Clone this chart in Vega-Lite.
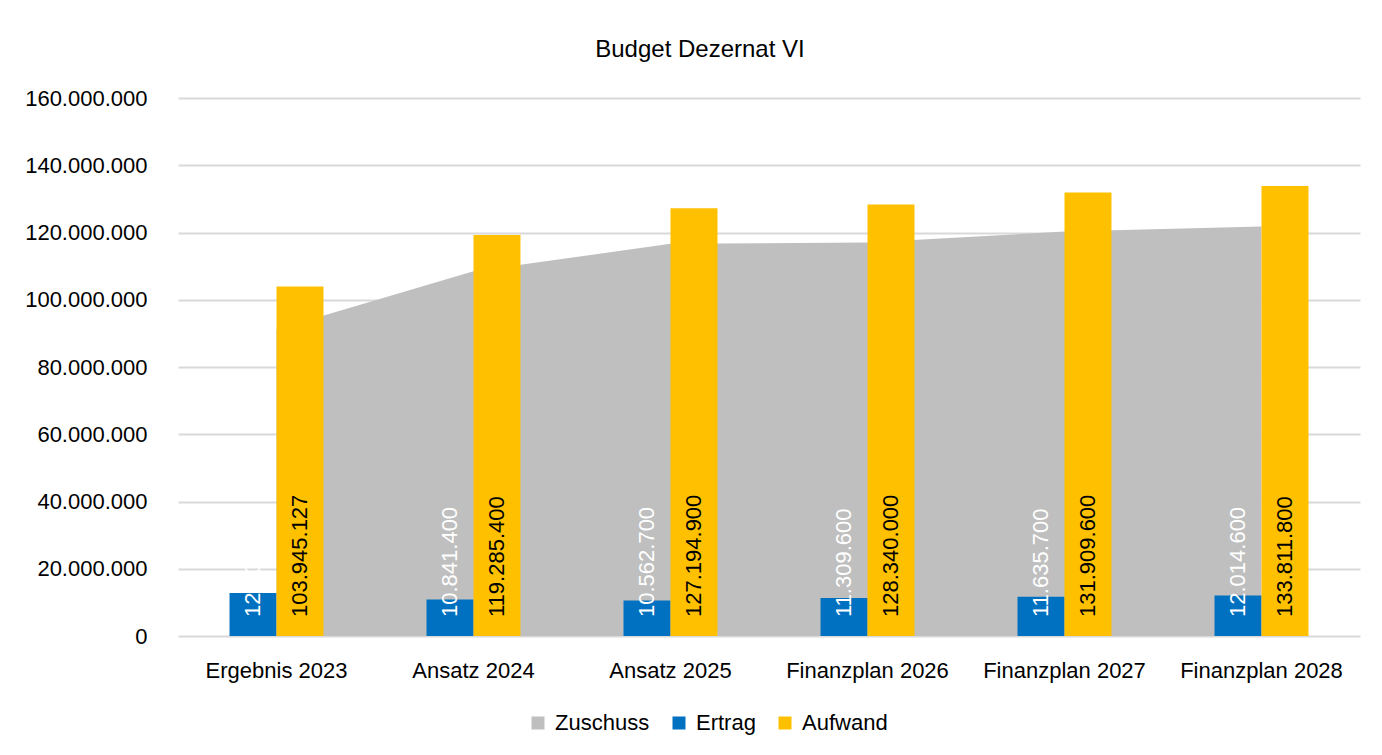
{
  "$schema": "https://vega.github.io/schema/vega-lite/v6.json",
  "width": 1182,
  "height": 538,
  "autosize": {"type": "none"},
  "padding": {"left": 178, "top": 98, "right": 22, "bottom": 119},
  "background": "white",
  "title": {
    "text": "Budget Dezernat VI",
    "font": "Liberation Sans",
    "fontSize": 24,
    "fontWeight": "normal",
    "color": "#000000",
    "anchor": "middle",
    "dx": -69,
    "offset": 6,
    "baseline": "alphabetic"
  },
  "data": {
    "values": [
      {"cat": "Ergebnis 2023", "series": "Zuschuss", "value": 91145127},
      {"cat": "Ansatz 2024", "series": "Zuschuss", "value": 108444000},
      {"cat": "Ansatz 2025", "series": "Zuschuss", "value": 116632200},
      {"cat": "Finanzplan 2026", "series": "Zuschuss", "value": 117030400},
      {"cat": "Finanzplan 2027", "series": "Zuschuss", "value": 120273900},
      {"cat": "Finanzplan 2028", "series": "Zuschuss", "value": 121797200},
      {"cat": "Ergebnis 2023", "series": "Ertrag", "value": 12800000},
      {"cat": "Ansatz 2024", "series": "Ertrag", "value": 10841400},
      {"cat": "Ansatz 2025", "series": "Ertrag", "value": 10562700},
      {"cat": "Finanzplan 2026", "series": "Ertrag", "value": 11309600},
      {"cat": "Finanzplan 2027", "series": "Ertrag", "value": 11635700},
      {"cat": "Finanzplan 2028", "series": "Ertrag", "value": 12014600},
      {"cat": "Ergebnis 2023", "series": "Aufwand", "value": 103945127},
      {"cat": "Ansatz 2024", "series": "Aufwand", "value": 119285400},
      {"cat": "Ansatz 2025", "series": "Aufwand", "value": 127194900},
      {"cat": "Finanzplan 2026", "series": "Aufwand", "value": 128340000},
      {"cat": "Finanzplan 2027", "series": "Aufwand", "value": 131909600},
      {"cat": "Finanzplan 2028", "series": "Aufwand", "value": 133811800}
    ]
  },
  "encoding": {
    "x": {
      "field": "cat",
      "type": "nominal",
      "sort": null,
      "scale": {"paddingInner": 0.523, "paddingOuter": 0.2615},
      "axis": {
        "title": null,
        "labelAngle": 0,
        "ticks": false,
        "domain": false,
        "grid": false,
        "labelFont": "Liberation Sans",
        "labelFontSize": 22,
        "labelColor": "#000000",
        "labelBaseline": "alphabetic",
        "labelPadding": 41
      }
    }
  },
  "layer": [
    {
      "transform": [{"filter": "datum.series === 'Zuschuss'"}],
      "mark": {"type": "area", "opacity": 1},
      "encoding": {
        "y": {
          "field": "value",
          "type": "quantitative",
          "scale": {"domain": [0, 160000000], "nice": false},
          "axis": {
            "title": null,
            "values": [0, 20000000, 40000000, 60000000, 80000000, 100000000, 120000000, 140000000, 160000000],
            "format": ",d",
            "ticks": false,
            "domain": false,
            "gridColor": "#D9D9D9",
            "gridWidth": 2,
            "labelFont": "Liberation Sans",
            "labelFontSize": 22,
            "labelColor": "#000000",
            "labelPadding": 31
          }
        },
        "color": {
          "field": "series",
          "type": "nominal",
          "scale": {"domain": ["Zuschuss", "Ertrag", "Aufwand"], "range": ["#BFBFBF", "#0070C0", "#FFC000"]},
          "legend": {
            "title": null,
            "orient": "none",
            "direction": "horizontal",
            "legendX": 349,
            "legendY": 614,
            "symbolType": "square",
            "symbolSize": 169,
            "symbolStrokeWidth": 0,
            "labelFont": "Liberation Sans",
            "labelFontSize": 22,
            "labelColor": "#000000",
            "labelOffset": 6,
            "columnPadding": 18
          }
        }
      }
    },
    {
      "transform": [{"filter": "datum.series !== 'Zuschuss'"}],
      "mark": {"type": "bar"},
      "encoding": {
        "xOffset": {"field": "series", "type": "nominal", "scale": {"domain": ["Ertrag", "Aufwand"], "paddingInner": 0, "paddingOuter": 0}},
        "y": {"field": "value", "type": "quantitative"},
        "color": {"field": "series", "type": "nominal"}
      }
    },
    {
      "transform": [{"filter": "datum.series !== 'Zuschuss'"}],
      "mark": {"type": "text", "angle": 270, "align": "left", "baseline": "middle", "dx": 19, "font": "Liberation Sans", "fontSize": 22},
      "encoding": {
        "xOffset": {"field": "series", "type": "nominal", "scale": {"domain": ["Ertrag", "Aufwand"], "paddingInner": 0, "paddingOuter": 0}},
        "y": {"datum": 0, "type": "quantitative"},
        "text": {"field": "value", "type": "quantitative", "format": ",d"},
        "color": {
          "condition": {"test": "datum.series === 'Ertrag'", "value": "#FFFFFF"},
          "value": "#000000"
        }
      }
    }
  ],
  "config": {
    "locale": {"number": {"decimal": ",", "thousands": ".", "grouping": [3], "currency": ["", " €"]}},
    "view": {"stroke": null},
    "font": "Liberation Sans"
  }
}
